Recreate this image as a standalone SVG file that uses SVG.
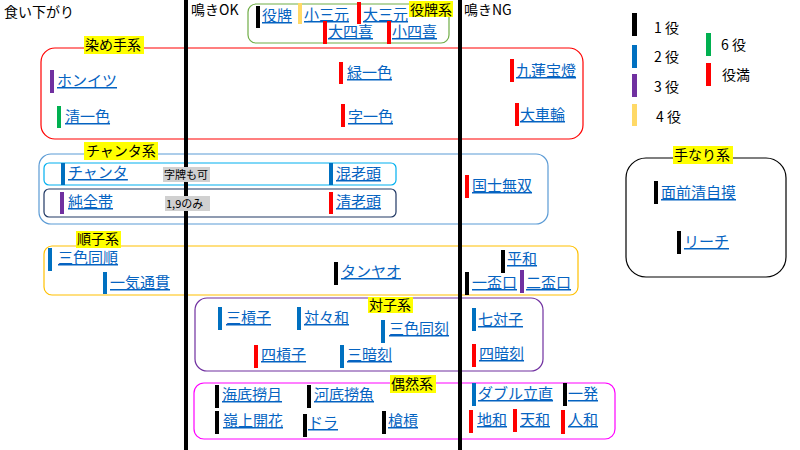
<svg xmlns="http://www.w3.org/2000/svg" width="800" height="450" viewBox="0 0 800 450">
<style>
text{font-family:"Noto Sans CJK JP","Noto Sans",sans-serif;}
.i{font-size:15px;fill:#0563C1;text-decoration:underline;}
.lb{font-size:14px;fill:#000;}
.n{font-size:11px;fill:#000;}
.g{fill:none;stroke-width:1.2;}
.k{fill:#000}.b{fill:#0070C0}.p{fill:#7030A0}.y{fill:#FFD966}.r{fill:#FF0000}.gr{fill:#00B050}
</style>
<rect width="800" height="450" fill="#fff"/>
<g id="groups">
<rect class="g" x="248" y="4" width="201" height="39" rx="8" stroke="#70AD47"/>
<rect class="g" x="41" y="48" width="542" height="91" rx="14" stroke="#FF0000"/>
<rect class="g" x="39" y="154" width="509" height="70" rx="12" stroke="#5B9BD5"/>
<rect class="g" x="44" y="163" width="352" height="22" rx="5" stroke="#00B0F0"/>
<rect class="g" x="44" y="189" width="352" height="28" rx="5" stroke="#203864"/>
<rect class="g" x="44" y="246" width="534" height="49" rx="8" stroke="#FFC000"/>
<rect class="g" x="195" y="298" width="348" height="73" rx="12" stroke="#7030A0"/>
<rect class="g" x="194" y="383" width="421" height="56" rx="10" stroke="#FF00FF"/>
<rect class="g" x="626" y="158" width="160" height="119" rx="20" stroke="#000"/>
</g>
<g id="dividers">
<rect x="184" y="0" width="4" height="450" fill="#000"/>
<rect x="458" y="0" width="4" height="450" fill="#000"/>
</g>
<g id="headers">
<text class="lb" x="4" y="17">食い下がり</text>
<text class="lb" x="191" y="15">鳴きOK</text>
<text class="lb" x="464" y="15">鳴きNG</text>
</g>
<g id="group-labels">
<rect x="409" y="1" width="44" height="16" fill="#FFFF00"/><text class="lb" x="410" y="15">役牌系</text>
<rect x="84" y="36" width="60" height="18" fill="#FFFF00"/><text class="lb" x="85" y="50">染め手系</text>
<rect x="84" y="142" width="74" height="18" fill="#FFFF00"/><text class="lb" x="86" y="156">チャンタ系</text>
<rect x="76" y="231" width="45" height="17" fill="#FFFF00"/><text class="lb" x="77" y="244">順子系</text>
<rect x="368" y="297" width="45" height="16" fill="#FFFF00"/><text class="lb" x="369" y="310">対子系</text>
<rect x="390" y="375" width="46" height="18" fill="#FFFF00"/><text class="lb" x="391" y="389">偶然系</text>
<rect x="673" y="146" width="60" height="18" fill="#FFFF00"/><text class="lb" x="674" y="160">手なり系</text>
</g>
<g id="notes">
<rect x="163" y="167" width="47" height="15" fill="#D0D0D0"/><text class="n" x="164" y="179">字牌も可</text>
<rect x="165" y="196" width="45" height="15" fill="#D0D0D0"/><text class="n" x="166" y="208">1,9のみ</text>
</g>
<g id="items">
<g id="n1"><rect class="k" x="256" y="6" width="4" height="22"/><text class="i" x="262" y="21">役牌</text></g>
<g id="n2"><rect class="y" x="298" y="3" width="4" height="21"/><text class="i" x="304" y="20">小三元</text></g>
<g id="n3"><rect class="r" x="357" y="2" width="4" height="22"/><text class="i" x="363" y="20">大三元</text></g>
<g id="n4"><rect class="r" x="323" y="21" width="4" height="23"/><text class="i" x="328" y="37">大四喜</text></g>
<g id="n5"><rect class="r" x="387" y="21" width="4" height="23"/><text class="i" x="392" y="37">小四喜</text></g>
<g id="n6"><rect class="p" x="50" y="70" width="4" height="23"/><text class="i" x="57" y="86">ホンイツ</text></g>
<g id="n7"><rect class="gr" x="57" y="106" width="4" height="22"/><text class="i" x="65" y="122">清一色</text></g>
<g id="n8"><rect class="r" x="339" y="62" width="4" height="22"/><text class="i" x="347" y="78">緑一色</text></g>
<g id="n9"><rect class="r" x="341" y="104" width="4" height="23"/><text class="i" x="348" y="122">字一色</text></g>
<g id="n10"><rect class="r" x="510" y="59" width="4" height="23"/><text class="i" x="516" y="76">九蓮宝燈</text></g>
<g id="n11"><rect class="r" x="515" y="103" width="4" height="23"/><text class="i" x="520" y="120">大車輪</text></g>
<g id="n12"><rect class="b" x="61" y="163" width="4" height="22"/><text class="i" x="68" y="178">チャンタ</text></g>
<g id="n13"><rect class="b" x="329" y="163" width="4" height="22"/><text class="i" x="336" y="179">混老頭</text></g>
<g id="n14"><rect class="p" x="60" y="192" width="4" height="22"/><text class="i" x="68" y="207">純全帯</text></g>
<g id="n15"><rect class="r" x="329" y="192" width="4" height="22"/><text class="i" x="336" y="207">清老頭</text></g>
<g id="n16"><rect class="r" x="465" y="175" width="4" height="23"/><text class="i" x="472" y="191">国士無双</text></g>
<g id="n17"><rect class="b" x="48" y="248" width="4" height="23"/><text class="i" x="58" y="263">三色同順</text></g>
<g id="n18"><rect class="b" x="103" y="272" width="4" height="22"/><text class="i" x="110" y="288">一気通貫</text></g>
<g id="n19"><rect class="k" x="334" y="262" width="4" height="23"/><text class="i" x="341" y="277">タンヤオ</text></g>
<g id="n20"><rect class="k" x="501" y="250" width="4" height="23"/><text class="i" x="507" y="264">平和</text></g>
<g id="n21"><rect class="k" x="465" y="272" width="4" height="23"/><text class="i" x="472" y="288">一盃口</text></g>
<g id="n22"><rect class="p" x="520" y="270" width="4" height="23"/><text class="i" x="526" y="288">二盃口</text></g>
<g id="n23"><rect class="b" x="218" y="307" width="4" height="23"/><text class="i" x="226" y="323">三槓子</text></g>
<g id="n24"><rect class="b" x="297" y="307" width="4" height="23"/><text class="i" x="304" y="323">対々和</text></g>
<g id="n25"><rect class="b" x="381" y="320" width="4" height="23"/><text class="i" x="389" y="334">三色同刻</text></g>
<g id="n26"><rect class="r" x="254" y="345" width="4" height="23"/><text class="i" x="261" y="360">四槓子</text></g>
<g id="n27"><rect class="b" x="340" y="345" width="4" height="23"/><text class="i" x="347" y="360">三暗刻</text></g>
<g id="n28"><rect class="b" x="472" y="308" width="4" height="23"/><text class="i" x="478" y="325">七対子</text></g>
<g id="n29"><rect class="r" x="472" y="344" width="4" height="23"/><text class="i" x="479" y="359">四暗刻</text></g>
<g id="n30"><rect class="k" x="215" y="385" width="4" height="23"/><text class="i" x="222" y="400">海底撈月</text></g>
<g id="n31"><rect class="k" x="307" y="385" width="4" height="23"/><text class="i" x="314" y="400">河底撈魚</text></g>
<g id="n32"><rect class="k" x="215" y="411" width="4" height="23"/><text class="i" x="223" y="426">嶺上開花</text></g>
<g id="n33"><rect class="k" x="303" y="414" width="4" height="23"/><text class="i" x="308" y="428">ドラ</text></g>
<g id="n34"><rect class="k" x="382" y="411" width="4" height="23"/><text class="i" x="388" y="426">槍槓</text></g>
<g id="n35"><rect class="b" x="472" y="383" width="4" height="23"/><text class="i" x="478" y="399">ダブル立直</text></g>
<g id="n36"><rect class="k" x="563" y="383" width="4" height="23"/><text class="i" x="568" y="399">一発</text></g>
<g id="n37"><rect class="r" x="469" y="410" width="4" height="23"/><text class="i" x="477" y="425">地和</text></g>
<g id="n38"><rect class="r" x="513" y="409" width="4" height="23"/><text class="i" x="520" y="425">天和</text></g>
<g id="n39"><rect class="r" x="561" y="410" width="4" height="24"/><text class="i" x="568" y="425">人和</text></g>
<g id="n40"><rect class="k" x="654" y="181" width="4" height="23"/><text class="i" x="661" y="198">面前清自摸</text></g>
<g id="n41"><rect class="k" x="677" y="231" width="4" height="23"/><text class="i" x="684" y="247">リーチ</text></g>
</g>
<g id="legend">
<rect class="k" x="632" y="13" width="5" height="23"/><text class="lb" x="654" y="33">1 役</text>
<rect class="b" x="632" y="45" width="5" height="23"/><text class="lb" x="654" y="62">2 役</text>
<rect class="p" x="632" y="74" width="5" height="23"/><text class="lb" x="654" y="92">3 役</text>
<rect class="y" x="632" y="104" width="5" height="22"/><text class="lb" x="656" y="122">4 役</text>
<rect class="gr" x="706" y="33" width="5" height="23"/><text class="lb" x="721" y="50">6 役</text>
<rect class="r" x="706" y="63" width="5" height="23"/><text class="lb" x="722" y="80">役満</text>
</g>
</svg>
